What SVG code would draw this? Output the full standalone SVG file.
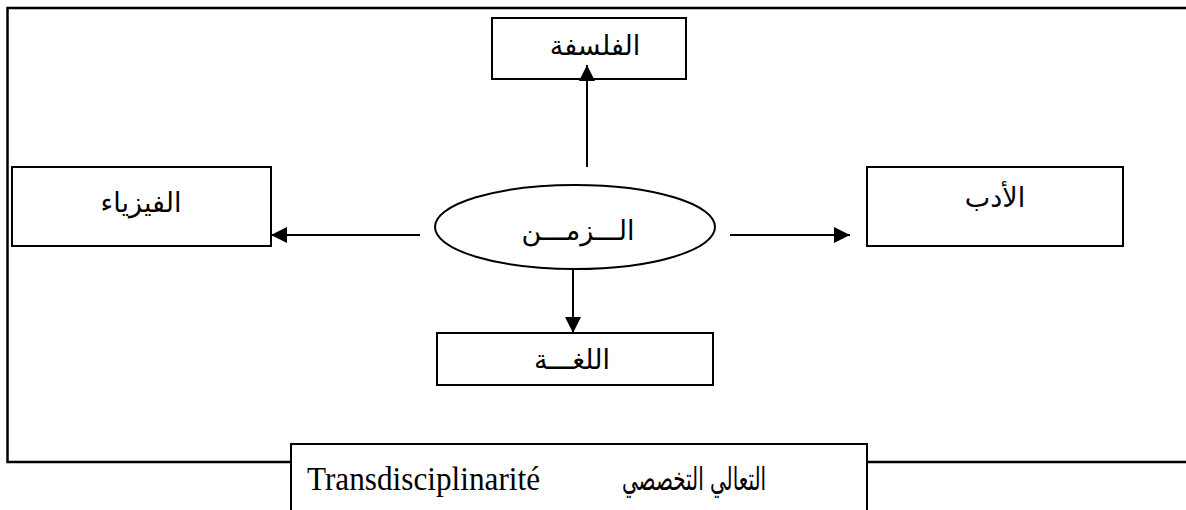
<svg xmlns="http://www.w3.org/2000/svg" width="1186" height="510" viewBox="0 0 1186 510">
<style>
.box{fill:#fff;stroke:#000;stroke-width:2}
.frame{fill:none;stroke:#000;stroke-width:2.5}
.lbl{font-family:"DejaVu Sans",sans-serif;font-size:27px;font-weight:normal;fill:#000;text-anchor:middle}
.ser{font-family:"Liberation Serif","DejaVu Serif",serif;font-size:34px;fill:#000}
.ar{font-family:"DejaVu Sans",serif;font-size:32px;fill:#000;text-anchor:middle}
.con{stroke:#000;stroke-width:2;fill:none}
</style>
<defs>
<marker id="ah" markerUnits="userSpaceOnUse" markerWidth="17" markerHeight="16" refX="16" refY="8" orient="auto">
<path d="M0,0 L16,8 L0,16 z" fill="#000"/>
</marker>
</defs>
<rect width="1186" height="510" fill="#fff"/>
<g id="frame">
<path class="frame" d="M1186,8 H7.5 V462 H1186"/>
</g>
<g id="n-philosophy">
<rect class="box" x="492" y="18" width="194" height="61"/>
<text class="lbl" x="595" y="55">الفلسفة</text>
</g>
<g id="n-physics">
<rect class="box" x="12" y="167" width="259" height="79"/>
<text class="lbl" x="141" y="212">الفيزياء</text>
</g>
<g id="n-time">
<ellipse class="box" cx="575" cy="227" rx="140" ry="42"/>
<text class="lbl" x="578" y="240" font-size="28">الـــزمـــن</text>
</g>
<g id="n-literature">
<rect class="box" x="867" y="167" width="256" height="79"/>
<text class="lbl" x="995" y="207">الأدب</text>
</g>
<g id="n-language">
<rect class="box" x="437" y="333" width="276" height="52"/>
<text class="lbl" x="572" y="369">اللغـــة</text>
</g>
<g id="connectors">
<line class="con" x1="587" y1="167" x2="587" y2="65" marker-end="url(#ah)"/>
<line class="con" x1="420" y1="235" x2="271" y2="235" marker-end="url(#ah)"/>
<line class="con" x1="730" y1="235" x2="850" y2="235" marker-end="url(#ah)"/>
<line class="con" x1="573" y1="269" x2="573" y2="333" marker-end="url(#ah)"/>
</g>
<g id="n-transdisciplinarity">
<path class="box" d="M291,512 V444 H867 V512"/>
<text class="ser" x="307" y="490" textLength="233" lengthAdjust="spacingAndGlyphs">Transdisciplinarité</text>
<text class="ar" x="694" y="490" textLength="144" lengthAdjust="spacingAndGlyphs">التعالي التخصصي</text>
</g>
</svg>
